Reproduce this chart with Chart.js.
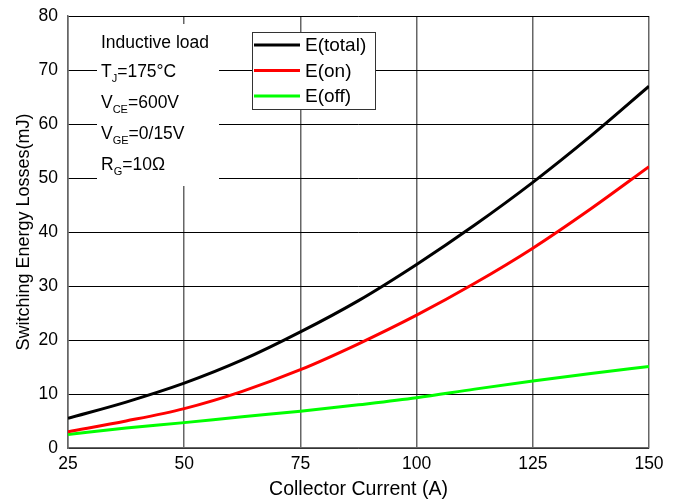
<!DOCTYPE html>
<html>
<head>
<meta charset="utf-8">
<script src="https://cdn.jsdelivr.net/npm/chart.js@4.4.1/dist/chart.umd.min.js"></script>
<style>
  html, body { margin: 0; padding: 0; background: #fff; }
  #wrap { width: 681px; height: 501px; }
</style>
</head>
<body>
<div id="wrap"><canvas id="lossChart" width="681" height="501"></canvas></div>
<script>
// collector current (A)
const current = [25, 37.5, 50, 62.5, 75, 87.5, 100, 112.5, 125, 137.5, 150];
// switching energy losses (mJ)
const eTotal = [5.5, 8.5, 12.0, 16.3, 21.5, 27.3, 34.0, 41.3, 49.2, 57.8, 67.0];
const eOn    = [3.0, 5.0, 7.3, 10.5, 14.5, 19.3, 24.6, 30.5, 37.0, 44.3, 52.1];
const eOff   = [2.5, 3.7, 4.7, 5.8, 6.8, 8.0, 9.3, 10.9, 12.4, 13.8, 15.1];
const seriesNames = ['E(total)', 'E(on)', 'E(off)'];
const seriesColors = ['#000000', '#ff0000', '#00ff00'];
const xTicks = [25, 50, 75, 100, 125, 150];
const yTicks = [0, 10, 20, 30, 40, 50, 60, 70, 80];

const font = "Arial, 'Liberation Sans', sans-serif";

function pts(vals) {
  return current.map((c, i) => ({ x: c, y: vals[i] }));
}

// white box with test conditions, and the framed legend
const notesPlugin = {
  id: 'notes',
  afterDatasetsDraw(chart) {
    const ctx = chart.ctx;
    ctx.save();
    ctx.fillStyle = '#fff';
    ctx.fillRect(97, 24, 122, 162);

    ctx.fillStyle = '#000';
    ctx.textBaseline = 'alphabetic';
    ctx.textAlign = 'left';
    const lines = [
      ['Inductive load', '', ''],
      ['T', 'J', '=175°C'],
      ['V', 'CE', '=600V'],
      ['V', 'GE', '=0/15V'],
      ['R', 'G', '=10Ω']
    ];
    const ys = [48, 77, 108, 139, 170];
    lines.forEach((l, i) => {
      let x = 101;
      ctx.font = '17.5px ' + font;
      ctx.fillText(l[0], x, ys[i]);
      x += ctx.measureText(l[0]).width;
      if (l[1]) {
        ctx.font = '11px ' + font;
        ctx.fillText(l[1], x, ys[i] + 5);
        x += ctx.measureText(l[1]).width;
        ctx.font = '17.5px ' + font;
        ctx.fillText(l[2], x, ys[i]);
      }
    });

    // legend
    ctx.fillStyle = '#fff';
    ctx.fillRect(252, 32, 123, 77);
    ctx.strokeStyle = '#333';
    ctx.lineWidth = 1;
    ctx.strokeRect(252.5, 32.5, 123, 77);
    ctx.font = '19px ' + font;
    ctx.textBaseline = 'middle';
    seriesNames.forEach((n, i) => {
      const y = 45 + i * 25.5;
      ctx.strokeStyle = seriesColors[i];
      ctx.lineWidth = 3;
      ctx.beginPath();
      ctx.moveTo(254, y);
      ctx.lineTo(300, y);
      ctx.stroke();
      ctx.fillStyle = '#000';
      ctx.fillText(n, 305, y + 1);
    });
    ctx.restore();
  }
};

new Chart(document.getElementById('lossChart'), {
  type: 'line',
  data: {
    datasets: [
      { label: seriesNames[0], data: pts(eTotal), borderColor: seriesColors[0] },
      { label: seriesNames[1], data: pts(eOn), borderColor: seriesColors[1] },
      { label: seriesNames[2], data: pts(eOff), borderColor: seriesColors[2] }
    ]
  },
  options: {
    responsive: false,
    animation: false,
    layout: { padding: { top: 16, right: 32, left: 0, bottom: 0 } },
    elements: {
      line: { borderWidth: 3, cubicInterpolationMode: 'monotone', fill: false },
      point: { radius: 0 }
    },
    plugins: { legend: { display: false }, tooltip: { enabled: false } },
    scales: {
      x: {
        type: 'linear',
        min: 25, max: 150,
        afterBuildTicks: s => { s.ticks = xTicks.map(v => ({ value: v })); },
        afterFit: s => { s.height = 53; },
        grid: { color: '#666', lineWidth: 1.5, drawTicks: false },
        border: { color: '#666', width: 1.5 },
        ticks: { color: '#000', padding: 6, font: { family: font, size: 17.5 } },
        title: { display: true, text: 'Collector Current (A)', color: '#000', padding: { top: 6, bottom: 0 }, font: { family: font, size: 19.5 } }
      },
      y: {
        min: 0, max: 80,
        afterBuildTicks: s => { s.ticks = yTicks.map(v => ({ value: v })); },
        afterFit: s => { s.width = 68; s.paddingTop = 2; s.paddingBottom = 2; },
        grid: { color: '#000', lineWidth: 1, drawTicks: false },
        border: { color: '#666', width: 1.5 },
        ticks: { color: '#000', padding: 10, font: { family: font, size: 17.5 } },
        title: { display: true, text: 'Switching Energy Losses(mJ)', color: '#000', padding: { top: 13, bottom: 1 }, font: { family: font, size: 18 } }
      }
    }
  },
  plugins: [notesPlugin]
});
</script>
</body>
</html>
